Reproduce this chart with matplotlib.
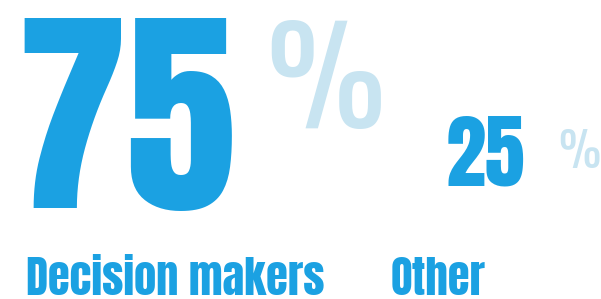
import matplotlib
matplotlib.use("Agg")
import matplotlib.pyplot as plt

# share of respondents
values = [75, 25]
labels = ["Decision makers", "Other"]

BLUE = "#1ba1e2"
PALE = "#c8e4f1"
BOLD = ["Anton", "DejaVu Sans"]
THIN = ["Oswald", "DejaVu Sans"]

fig = plt.figure(figsize=(6.01, 2.99), dpi=100)
ax = fig.add_axes([0, 0, 1, 1])
ax.set_xlim(0, 601)
ax.set_ylim(299, 0)
ax.axis("off")

# big number, percent sign, label for each group
num_x = [16, 446]
num_y = [208, 185]
num_size = [160, 58]
pct_x = [266, 558]
pct_y = [128, 168]
pct_size = [96, 34]
lab_x = [26, 391]

for i, (v, lab) in enumerate(zip(values, labels)):
    ax.text(num_x[i], num_y[i], f"{v}", color=BLUE, fontsize=num_size[i],
            family=BOLD, ha="left", va="baseline")
    ax.text(pct_x[i], pct_y[i], "%", color=PALE, fontsize=pct_size[i],
            family=THIN, ha="left", va="baseline")
    ax.text(lab_x[i], 295, lab, color=BLUE, fontsize=32,
            family=BOLD, ha="left", va="baseline")

fig.savefig("out.png", dpi=100)
